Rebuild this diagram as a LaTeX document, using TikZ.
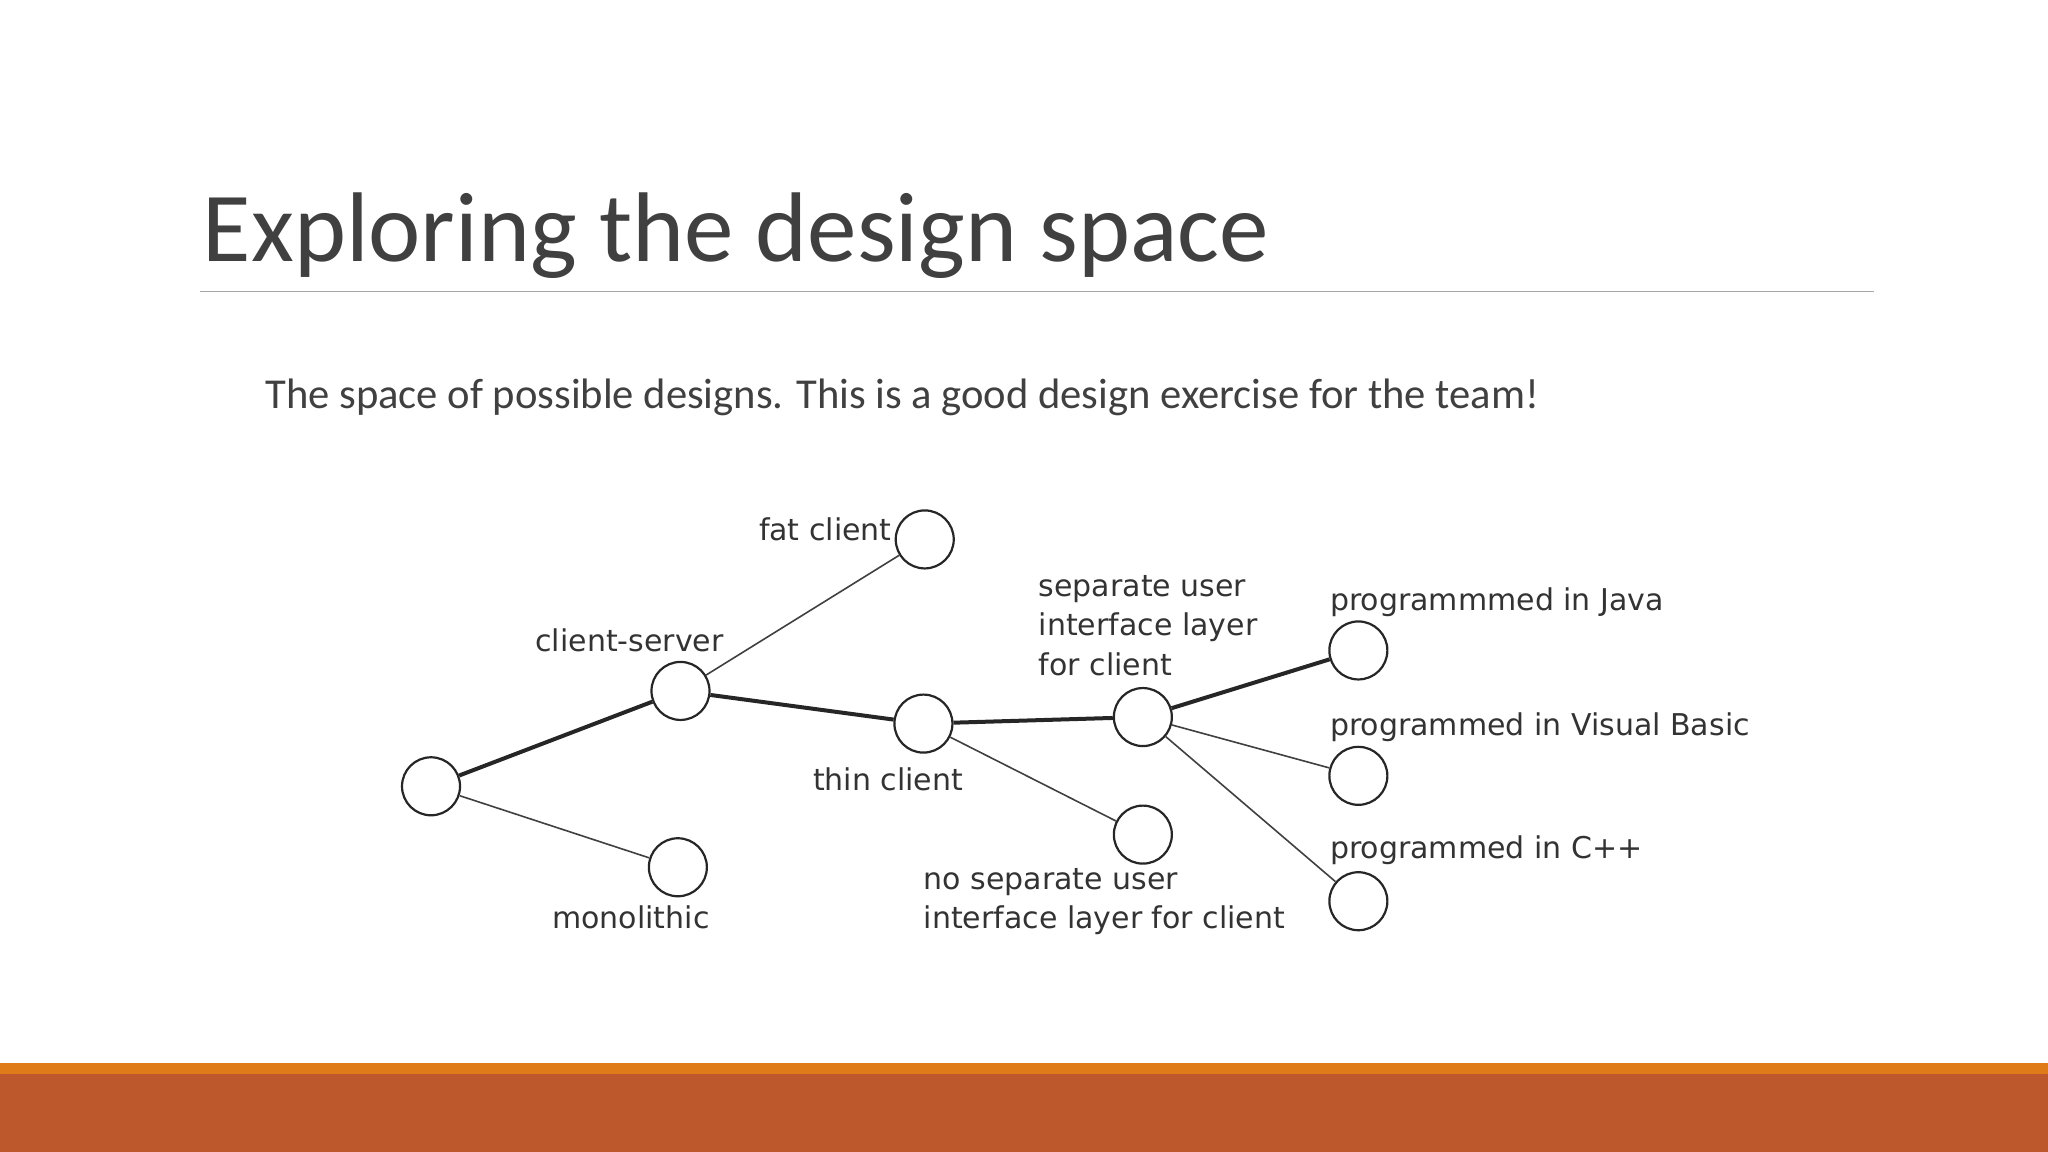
\documentclass[tikz,border=0pt]{standalone}
\usepackage{fontspec}
\setmainfont{Carlito}
\newfontfamily\lblfont{DejaVu Sans}
\definecolor{barA}{HTML}{E07B1A}
\definecolor{barB}{HTML}{BD582C}
\definecolor{titlec}{HTML}{404040}
\begin{document}
\begin{tikzpicture}[x=0.653pt,y=-0.653pt,
  circ/.style={draw=black!85,line width=1.1pt,circle,minimum size=29pt,inner sep=0pt,fill=white},
  thick edge/.style={line width=2pt,draw=black!85},
  thin edge/.style={line width=0.8pt,draw=black!75},
  lbl/.style={font=\lblfont\fontsize{15}{19.6}\selectfont,text=black!80,inner sep=0pt,align=left}]
\useasboundingbox (0,0) rectangle (1568,882);
\fill[barA] (0,814) rectangle (1568,822);
\fill[barB] (0,822) rectangle (1568,882);
\node[anchor=base west,inner sep=0pt,text=titlec,font=\fontsize{49.5}{56}\selectfont] (title) at (155,200) {Exploring the design space};
\draw[black!35,line width=0.6pt] (153,223) coordinate (r1) -- (1435,223) coordinate (r2);
\node[anchor=base west,inner sep=0pt,text=titlec,font=\fontsize{21.3}{26}\selectfont] (sub) at (203,313) {The space of possible designs. This is a good design exercise for the team!};
\node[circ] (root) at (330,602) {};
\node[circ] (cs) at (521,529) {};
\node[circ] (mono) at (519,664) {};
\node[circ] (fat) at (708,413) {};
\node[circ] (thin) at (707,554) {};
\node[circ] (sep) at (875,549) {};
\node[circ] (nosep) at (875,639) {};
\node[circ] (java) at (1040,498) {};
\node[circ] (vb) at (1040,594) {};
\node[circ] (cpp) at (1040,690) {};
\draw[thick edge] (root) -- (cs);
\draw[thick edge] (cs) -- (thin);
\draw[thick edge] (thin) -- (sep);
\draw[thick edge] (sep) -- (java);
\draw[thin edge] (root) -- (mono);
\draw[thin edge] (cs) -- (fat);
\draw[thin edge] (thin) -- (nosep);
\draw[thin edge] (sep) -- (vb);
\draw[thin edge] (sep) -- (cpp);
\node[lbl,anchor=east] (lfat) at (683,405) {fat client};
\node[lbl] (lcs) at (482,490) {client-server};
\node[lbl] (lmono) at (483,702) {monolithic};
\node[lbl] (lthin) at (680,597) {thin client};
\node[lbl,anchor=west] (lsep) at (795,479) {separate user\\interface layer\\for client};
\node[lbl,anchor=west] (lnosep) at (707,690) {no separate user\\interface layer for client};
\node[lbl,anchor=west] (ljava) at (1018,461) {programmmed in Java};
\node[lbl,anchor=west] (lvb) at (1018,557) {programmed in Visual Basic};
\node[lbl,anchor=west] (lcpp) at (1018,651) {programmed in C++};
\end{tikzpicture}
\end{document}
